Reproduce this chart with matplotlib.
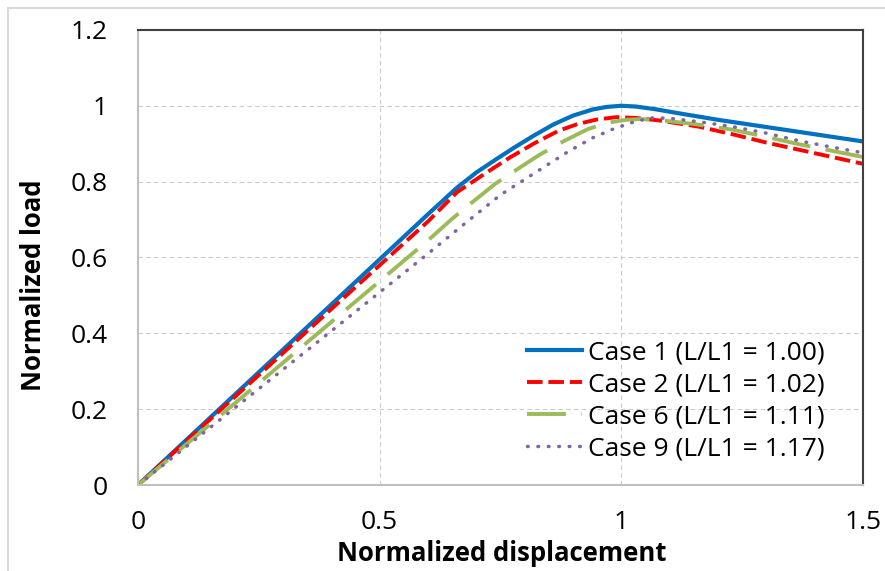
import matplotlib
matplotlib.use('Agg')
import matplotlib.pyplot as plt
from matplotlib.patches import Rectangle

# --- DATA ---
case1_x = [0, 0.2, 0.4, 0.6, 0.66, 0.7, 0.74, 0.78, 0.82, 0.86, 0.9, 0.94, 0.97, 1.0, 1.03, 1.07, 1.12, 1.2, 1.3, 1.4, 1.5]
case1_y = [0, 0.238, 0.476, 0.714, 0.784, 0.824, 0.858, 0.891, 0.922, 0.951, 0.974, 0.99, 0.997, 1.0, 0.998, 0.991, 0.980, 0.963, 0.944, 0.925, 0.906]

case2_x = [0, 0.2, 0.4, 0.6, 0.66, 0.72, 0.77, 0.82, 0.87, 0.91, 0.95, 0.99, 1.03, 1.08, 1.16, 1.23, 1.3, 1.4, 1.5]
case2_y = [0, 0.232, 0.464, 0.695, 0.772, 0.823, 0.864, 0.901, 0.934, 0.952, 0.964, 0.970, 0.968, 0.961, 0.945, 0.925, 0.903, 0.875, 0.847]

case6_x = [0, 0.2, 0.4, 0.6, 0.65, 0.69, 0.74, 0.79, 0.83, 0.88, 0.93, 0.97, 1.01, 1.04, 1.08, 1.15, 1.23, 1.3, 1.37, 1.5]
case6_y = [0, 0.215, 0.43, 0.645, 0.702, 0.744, 0.795, 0.837, 0.870, 0.906, 0.938, 0.955, 0.963, 0.965, 0.962, 0.952, 0.937, 0.918, 0.898, 0.865]

case9_x = [0, 0.2, 0.4, 0.6, 0.67, 0.75, 0.82, 0.89, 0.94, 0.98, 1.02, 1.06, 1.1, 1.16, 1.23, 1.3, 1.37, 1.44, 1.5]
case9_y = [0, 0.203, 0.406, 0.61, 0.683, 0.765, 0.822, 0.879, 0.915, 0.937, 0.955, 0.968, 0.967, 0.958, 0.945, 0.928, 0.907, 0.890, 0.876]

labels = ['Case 1 (L/L1 = 1.00)', 'Case 2 (L/L1 = 1.02)',
          'Case 6 (L/L1 = 1.11)', 'Case 9 (L/L1 = 1.17)']
x_ticks = [0, 0.5, 1, 1.5]
x_ticklabels = ['0', '0.5', '1', '1.5']
y_ticks = [0, 0.2, 0.4, 0.6, 0.8, 1.0, 1.2]
y_ticklabels = ['0', '0.2', '0.4', '0.6', '0.8', '1', '1.2']

plt.rcParams['font.family'] = ['Open Sans', 'DejaVu Sans']

fig = plt.figure(figsize=(8.85, 5.71), dpi=100)
ax = fig.add_axes([0.156, 0.1506, 0.819, 0.797])

# outer chart border (only top/left visible in the reference)
fig.patches.append(Rectangle((8 / 885, -0.1), 1.2, 1 - 8 / 571 + 0.1,
                             transform=fig.transFigure, fill=False,
                             edgecolor='#d9d9d9', linewidth=1.5))

ax.plot(case1_x, case1_y, color='#0070c0', lw=3.0, label=labels[0])
ax.plot(case2_x, case2_y, color='#ff0000', lw=2.8, dashes=(4, 1.5), label=labels[1])
ax.plot(case6_x, case6_y, color='#9bbb59', lw=2.8, dashes=(10, 4), label=labels[2])
ax.plot(case9_x, case9_y, color='#8064a2', lw=2.5, dashes=(0.2, 2.8),
        dash_capstyle='round', label=labels[3])

ax.set_xlim(0, 1.5)
ax.set_ylim(0, 1.2)
ax.set_xticks(x_ticks)
ax.set_xticklabels(x_ticklabels)
ax.set_yticks(y_ticks)
ax.set_yticklabels(y_ticklabels)
ax.tick_params(length=0, labelsize=19, colors='black')
ax.tick_params(axis='x', pad=18)
ax.tick_params(axis='y', pad=22)
ax.grid(True, color='#cccccc', linestyle=(0, (4, 3)), linewidth=0.8)
ax.set_axisbelow(True)

for side in ['left', 'bottom']:
    ax.spines[side].set_color('#bfbfbf')
    ax.spines[side].set_linewidth(1.5)
for side in ['top', 'right']:
    ax.spines[side].set_color('#404040')
    ax.spines[side].set_linewidth(1.5)

ax.set_xlabel('Normalized displacement', fontsize=18.5, fontweight='bold')
ax.set_ylabel('Normalized load', fontsize=18.5, fontweight='bold')
ax.xaxis.set_label_coords(0.502, -0.12)
ax.yaxis.set_label_coords(-0.125, 0.44)

leg = ax.legend(loc='upper left', bbox_to_anchor=(0.537, 0.318), frameon=False,
                fontsize=19, handlelength=2.08, handletextpad=0.23,
                labelspacing=0.27, borderaxespad=0, borderpad=0)

fig.savefig('out.png', dpi=100)
